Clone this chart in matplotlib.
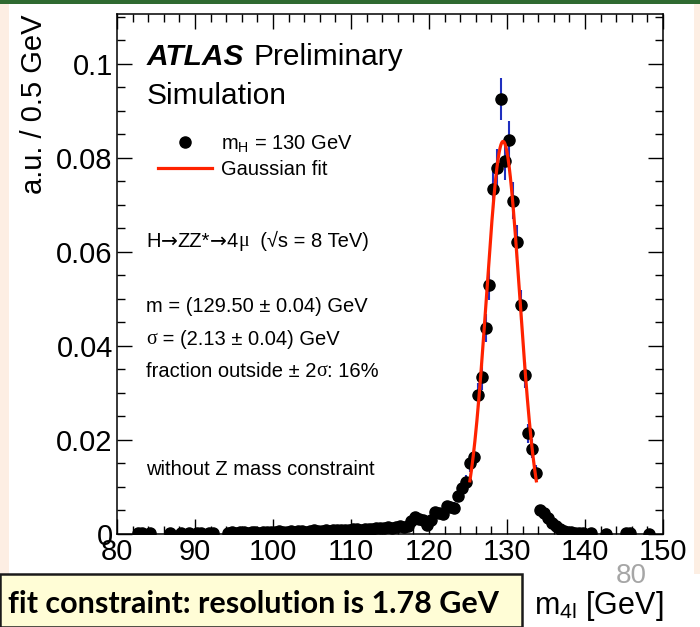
import numpy as np
import matplotlib
matplotlib.use("Agg")
import matplotlib.pyplot as plt
from matplotlib.lines import Line2D
from matplotlib.patches import Rectangle
from matplotlib.ticker import MultipleLocator

plt.rcParams["font.family"] = ["Liberation Sans", "DejaVu Sans"]
plt.rcParams["mathtext.fontset"] = "custom"
plt.rcParams["mathtext.rm"] = "Liberation Sans"
plt.rcParams["mathtext.it"] = "Liberation Serif"
plt.rcParams["mathtext.bf"] = "Liberation Sans:bold"

# four-muon invariant mass, bin centres of 0.5 GeV bins [GeV]
mass = [
    82.75, 83.25, 84.25, 86.75, 88.25, 89.25, 90.25, 90.75, 91.75, 92.25,
    94.25, 94.75, 95.25, 95.75, 96.25, 96.75, 97.25, 97.75, 98.25, 98.75,
    99.25, 99.75, 100.25, 100.75, 101.25, 101.75, 102.25, 102.75, 103.25, 103.75,
    104.25, 104.75, 105.25, 105.75, 106.25, 106.75, 107.25, 107.75, 108.25, 108.75,
    109.25, 109.75, 110.25, 110.75, 111.25, 111.75, 112.25, 112.75, 113.25, 113.75,
    114.25, 114.75, 115.25, 115.75, 116.25, 116.75, 117.25, 117.75, 118.25, 118.75,
    119.25, 119.75, 120.25, 120.75, 121.25, 121.75, 122.25, 122.75, 123.25, 123.75,
    124.25, 124.75, 125.25, 125.75, 126.25, 126.75, 127.25, 127.75, 128.25, 128.75,
    129.25, 129.75, 130.25, 130.75, 131.25, 131.75, 132.25, 132.75, 133.25, 133.75,
    134.25, 134.75, 135.25, 135.75, 136.25, 136.75, 137.25, 137.75, 138.25, 138.75,
    139.25, 139.75, 140.75, 142.75, 145.25, 145.75, 148.25,
]

# normalised entries per bin (a.u. / 0.5 GeV)
entries = [
    0.0002, 0.0002, 0.0002, 0.0002, 0.0002, 0.0003, 0.0002, 0.0002, 0.0002, 0.0002,
    0.0003, 0.0004, 0.0003, 0.0004, 0.0004, 0.0003, 0.0005, 0.0004, 0.0003, 0.0005,
    0.0004, 0.0005, 0.0004, 0.0006, 0.0005, 0.0004, 0.0006, 0.0005, 0.0006, 0.0006,
    0.0005, 0.0006, 0.0008, 0.0007, 0.0006, 0.0008, 0.0007, 0.0008, 0.0008, 0.0009,
    0.0009, 0.0008, 0.0010, 0.0010, 0.0009, 0.0011, 0.0011, 0.0010, 0.0012, 0.0012,
    0.0013, 0.0014, 0.0013, 0.0015, 0.0016, 0.0014, 0.0016, 0.0028, 0.0037, 0.0032,
    0.0030, 0.0019, 0.0030, 0.0047, 0.0044, 0.0042, 0.0060, 0.0058, 0.0056, 0.0081,
    0.0098, 0.0110, 0.0150, 0.0164, 0.0296, 0.0333, 0.0438, 0.0530, 0.0733, 0.0779,
    0.0925, 0.0794, 0.0837, 0.0709, 0.0622, 0.0487, 0.0338, 0.0214, 0.0181, 0.0130,
    0.0052, 0.0044, 0.0033, 0.0024, 0.0016, 0.0011, 0.0007, 0.0005, 0.0004, 0.0003,
    0.0003, 0.0002, 0.0003, 0.0001, 0.0002, 0.0002, 0.0001,
]

# statistical uncertainty of each bin
uncert = [
    0.0002, 0.0002, 0.0002, 0.0002, 0.0002, 0.0003, 0.0002, 0.0002, 0.0002, 0.0002,
    0.0003, 0.0003, 0.0003, 0.0003, 0.0003, 0.0003, 0.0003, 0.0003, 0.0003, 0.0003,
    0.0003, 0.0003, 0.0003, 0.0004, 0.0003, 0.0003, 0.0004, 0.0003, 0.0004, 0.0004,
    0.0003, 0.0004, 0.0004, 0.0004, 0.0004, 0.0004, 0.0004, 0.0004, 0.0004, 0.0004,
    0.0004, 0.0004, 0.0005, 0.0005, 0.0004, 0.0005, 0.0005, 0.0005, 0.0005, 0.0005,
    0.0005, 0.0005, 0.0005, 0.0006, 0.0006, 0.0005, 0.0006, 0.0008, 0.0009, 0.0008,
    0.0008, 0.0006, 0.0008, 0.0010, 0.0010, 0.0009, 0.0011, 0.0011, 0.0011, 0.0013,
    0.0014, 0.0015, 0.0018, 0.0019, 0.0025, 0.0026, 0.0030, 0.0033, 0.0039, 0.0040,
    0.0044, 0.0041, 0.0042, 0.0039, 0.0036, 0.0032, 0.0027, 0.0021, 0.0020, 0.0017,
    0.0010, 0.0010, 0.0008, 0.0007, 0.0006, 0.0005, 0.0004, 0.0003, 0.0003, 0.0003,
    0.0003, 0.0002, 0.0003, 0.0001, 0.0002, 0.0002, 0.0001,
]

# Gaussian fit result, fitted within +-2 sigma
fit_mean = 129.50
fit_sigma = 2.13
fit_peak = 0.0835

x_ticks = [80, 90, 100, 110, 120, 130, 140, 150]
y_ticks = [0, 0.02, 0.04, 0.06, 0.08, 0.1]
y_tick_labels = ["0", "0.02", "0.04", "0.06", "0.08", "0.1"]

W, H = 700, 627
fig = plt.figure(figsize=(W / 100, H / 100), dpi=100, facecolor="white")


def fx(px):
    return px / W


def fy(py):
    return 1 - py / H


# slide decoration
fig.patches.append(Rectangle((0, fy(4)), 1, 4 / H, transform=fig.transFigure,
                             facecolor="#2f6a31", edgecolor="none", zorder=0))
fig.patches.append(Rectangle((0, fy(574)), fx(9), (574 - 4) / H, transform=fig.transFigure,
                             facecolor="#fdeee3", edgecolor="none", zorder=0))
fig.patches.append(Rectangle((fx(694), fy(574)), fx(6), (574 - 4) / H, transform=fig.transFigure,
                             facecolor="#fdeee3", edgecolor="none", zorder=0))

L, R, T, B = 117, 663, 14, 534
ax = fig.add_axes([fx(L), fy(B), (R - L) / W, (B - T) / H])

ax.errorbar(mass, entries, yerr=uncert, fmt="o", color="black", ms=8,
            ecolor="#1f2fbf", elinewidth=1.5, capsize=0, zorder=3)

xf = np.linspace(fit_mean - 2 * fit_sigma, fit_mean + 2 * fit_sigma, 200)
yf = fit_peak * np.exp(-0.5 * ((xf - fit_mean) / fit_sigma) ** 2)
ax.plot(xf, yf, color="#ff2200", lw=2.3, zorder=4)

ax.set_xlim(80, 150)
ax.set_ylim(0, 0.1106)
ax.set_xticks(x_ticks)
ax.set_yticks(y_ticks)
ax.set_yticklabels(y_tick_labels)
ax.xaxis.set_minor_locator(MultipleLocator(2))
ax.yaxis.set_minor_locator(MultipleLocator(0.005))
ax.tick_params(which="both", direction="in", top=True, right=True, width=1.0,
               labelsize=21, color="black")
ax.tick_params(which="major", length=11, pad=3)
ax.tick_params(which="minor", length=5.5)
for s in ax.spines.values():
    s.set_linewidth(1.1)

ax.set_ylabel("a.u. / 0.5 GeV", fontsize=21, loc="top", labelpad=6)

# text labels
fig.text(fx(147), fy(65), "ATLAS", fontsize=21.5, va="baseline",
         fontweight="bold", fontstyle="italic")
fig.text(fx(253), fy(65), "Preliminary", fontsize=21.5, va="baseline")
fig.text(fx(147), fy(104), "Simulation", fontsize=21.5, va="baseline")

handles = [Line2D([], [], ls="none", marker="o", color="black", ms=8),
           Line2D([], [], color="#ff2200", lw=2.3)]
labels = [r"m$_{\mathrm{H}}$ = 130 GeV", "Gaussian fit"]
ax.legend(handles, labels, loc="upper left",
          bbox_to_anchor=((158 - L) / (R - L), (B - 133) / (B - T)),
          frameon=False, fontsize=14.5, borderpad=0, borderaxespad=0,
          handlelength=2.7, handletextpad=0.45, labelspacing=0.3)

SANS = ["Liberation Sans", "DejaVu Sans"]
SYM = ["Liberation Serif", "DejaVu Serif"]
ARROW = ["DejaVu Sans"]


def text_run(x, y, pieces, size=14.5):
    """Draw a line of text made of pieces in different font families."""
    first, fam = pieces[0]
    t = fig.text(x, y, first, fontsize=size, family=fam, va="bottom")
    for s, fam in pieces[1:]:
        t = ax.annotate(s, xy=(1, 0), xycoords=t, va="bottom", ha="left",
                        fontsize=size, family=fam, annotation_clip=False)
    return t


text_run(fx(146), fy(251), [("H", SANS), ("\u2192", ARROW), ("ZZ*", SANS),
                            ("\u2192", ARROW), ("4", SANS), ("\u03bc", SYM),
                            ("  (\u221as = 8 TeV)", SANS)])
text_run(fx(146), fy(316), [("m = (129.50 \u00b1 0.04) GeV", SANS)])
text_run(fx(146), fy(349), [("\u03c3", SYM), (" = (2.13 \u00b1 0.04) GeV", SANS)])
text_run(fx(146), fy(381), [("fraction outside \u00b1 2", SANS), ("\u03c3", SYM),
                            (": 16%", SANS)])
text_run(fx(146), fy(479), [("without Z mass constraint", SANS)])

fig.text(fx(R), fy(606), r"m$_{\mathrm{4l}}$ [GeV]", fontsize=22, ha="right", va="center")
fig.text(fx(631), fy(576), "80", fontsize=20, color="#a6a6a6", ha="center", va="center")

# note box at the bottom of the slide
fig.patches.append(Rectangle((0, 0), fx(522), 53 / H, transform=fig.transFigure,
                             facecolor="#fffdd6", edgecolor="#1a1a1a", lw=1.8, zorder=1))
fig.text(fx(8), fy(604), "fit constraint: resolution is 1.78 GeV", fontsize=22,
         fontweight="bold", family=["Lato", "DejaVu Sans"], va="center", zorder=2)

fig.savefig("out.png", dpi=100, facecolor="white")
